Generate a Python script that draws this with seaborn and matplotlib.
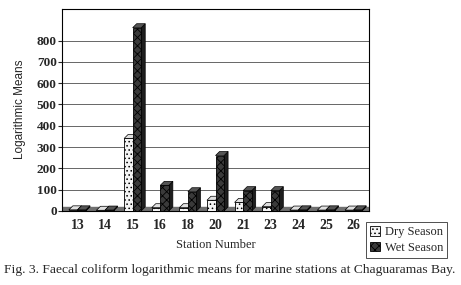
import matplotlib
matplotlib.use("Agg")
import matplotlib.pyplot as plt
import seaborn as sns
import pandas as pd
from matplotlib.patches import Polygon, Patch
from matplotlib.transforms import IdentityTransform

stations = ["13", "14", "15", "16", "18", "20", "21", "23", "24", "25", "26"]
dry = [5, 3, 340, 15, 15, 50, 40, 20, 4, 4, 4]
wet = [5, 4, 860, 120, 90, 260, 95, 95, 5, 5, 5]
series = ["Dry Season", "Wet Season"]
yticks = [0, 100, 200, 300, 400, 500, 600, 700, 800]

df = pd.DataFrame({
    "Station": stations * 2,
    "Value": dry + wet,
    "Season": [series[0]] * len(stations) + [series[1]] * len(stations),
})

sns.set_style("white")
plt.rcParams["hatch.linewidth"] = 0.6

fig = plt.figure(figsize=(4.61, 2.85), dpi=100)
ax = fig.add_axes([0.135, 0.26, 0.665, 0.71])

palette = {series[0]: "#f4f4f4", series[1]: "#3a3a3a"}
sns.barplot(data=df, x="Station", y="Value", hue="Season", order=stations,
            hue_order=series, palette=palette, width=0.62, ax=ax,
            edgecolor="black", linewidth=0.6, legend=False, zorder=3)

hatches = {series[0]: "....", series[1]: "xxxx"}
side_colors = {series[0]: "#c8c8c8", series[1]: "#1e1e1e"}
top_colors = {series[0]: "#e0e0e0", series[1]: "#555555"}
n = len(stations)
bars = list(ax.patches[:2 * n])
for i, bar in enumerate(bars):
    s = series[0] if i < n else series[1]
    bar.set_hatch(hatches[s])

# floor
ax.axhspan(0, 18, color="#707070", zorder=1)

ax.set_ylim(0, 950)
ax.set_xlim(-0.55, n - 0.45)
ax.set_yticks(yticks)
ax.yaxis.grid(True, color="#666666", linewidth=0.7, zorder=0)
ax.set_axisbelow(True)
for sp in ax.spines.values():
    sp.set_color("black")
    sp.set_linewidth(0.8)

# pseudo-3D faces derived from bar geometry
fig.canvas.draw()
dx, dy = 4, 4
for i, bar in enumerate(bars):
    s = series[0] if i < n else series[1]
    (x0, y0), (x1, y1) = ax.transData.transform(
        [(bar.get_x(), bar.get_y()), (bar.get_x() + bar.get_width(), bar.get_y() + bar.get_height())])
    top = Polygon([(x0, y1), (x1, y1), (x1 + dx, y1 + dy), (x0 + dx, y1 + dy)],
                  closed=True, transform=IdentityTransform(), facecolor=top_colors[s],
                  edgecolor="black", linewidth=0.5, zorder=3.1)
    side = Polygon([(x1, y0), (x1 + dx, y0 + dy), (x1 + dx, y1 + dy), (x1, y1)],
                   closed=True, transform=IdentityTransform(), facecolor=side_colors[s],
                   edgecolor="black", linewidth=0.5, zorder=3.0)
    ax.add_artist(side)
    ax.add_artist(top)
    side.set_clip_on(False)
    top.set_clip_on(False)
    bar.set_zorder(3.2)

ax.tick_params(axis="y", length=3, width=0.8, pad=1, left=True)
ax.tick_params(axis="x", length=0, pad=6)
for lab in ax.get_yticklabels() + ax.get_xticklabels():
    lab.set_fontfamily("Liberation Serif")
    lab.set_fontweight("bold")
    lab.set_fontsize(9.5)
for lab in ax.get_xticklabels():
    lab.set_fontsize(10)

ax.set_ylabel("Logarithmic Means", family="Liberation Sans", fontsize=8.5, labelpad=8)
ax.set_xlabel("Station Number", family="Liberation Serif", fontsize=9, labelpad=5)

handles = [Patch(facecolor=palette[s], edgecolor="black", hatch=hatches[s], linewidth=0.6) for s in series]
leg = fig.legend(handles, series, loc="upper left", bbox_to_anchor=(0.795, 0.22),
                 borderaxespad=0, frameon=True, fancybox=False, edgecolor="black", borderpad=0.3,
                 handlelength=0.8, handleheight=0.8, handletextpad=0.4, labelspacing=0.3,
                 prop={"family": "Liberation Serif", "size": 9})
leg.get_frame().set_linewidth(0.6)

fig.text(0.008, 0.03, "Fig. 3. Faecal coliform logarithmic means for marine stations at Chaguaramas Bay.",
         family="Liberation Serif", fontsize=9.7, ha="left", va="bottom")

fig.savefig("out.png", dpi=100)
